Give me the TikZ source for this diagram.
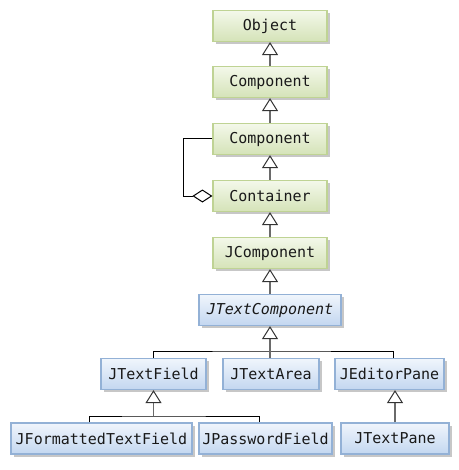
\documentclass[tikz,border=0pt]{standalone}
\usepackage{fontspec}
\setmonofont{DejaVu Sans Mono}
\usetikzlibrary{arrows.meta,shadows,positioning}
\definecolor{gtop}{HTML}{F4F8EA}
\definecolor{gbot}{HTML}{D5E3B8}
\definecolor{gbrd}{HTML}{BFD394}
\definecolor{btop}{HTML}{F0F5FC}
\definecolor{bbot}{HTML}{C3D7F0}
\definecolor{bbrd}{HTML}{93B1D6}
\definecolor{lgray}{HTML}{6A6A6A}
\tikzset{
  cls/.style={rectangle, inner sep=0pt, minimum height=31pt, line width=1.2pt,
    font=\ttfamily\fontsize{15}{15}\selectfont, text=black!90,
    drop shadow={shadow xshift=2.5pt, shadow yshift=-2.5pt, fill=black!22, opacity=1}},
  gcls/.style={cls, draw=gbrd, top color=gtop, bottom color=gbot},
  bcls/.style={cls, draw=bbrd, top color=btop, bottom color=bbot},
  inh/.style={draw=lgray, line width=1.8pt, -{Triangle[open, width=16pt, length=13pt, line width=1pt, black!80]}},
  inhline/.style={draw=lgray, line width=1.8pt},
  bus/.style={draw=black, line width=1pt},
  agg/.style={draw=black, line width=1pt, -{Diamond[open, length=20pt, width=13pt, line width=1pt]}}
}
\begin{document}
\begin{tikzpicture}[x=1pt,y=-1pt]
\useasboundingbox (0,0) rectangle (458,470);
% green classes
\node[gcls, minimum width=114pt] (obj)  at (270,26)  {Object};
\node[gcls, minimum width=114pt] (comp1) at (270,82) {Component};
\node[gcls, minimum width=114pt] (comp2) at (270,139) {Component};
\node[gcls, minimum width=114pt] (cont) at (270,196) {Container};
\node[gcls, minimum width=114pt] (jcomp) at (270,253) {JComponent};
% blue classes
\node[bcls, minimum width=142pt] (jtc) at (270,310) {\itshape JTextComponent};
\node[bcls, minimum width=105pt] (jtf) at (153.5,374) {JTextField};
\node[bcls, minimum width=96pt]  (jta) at (271,374) {JTextArea};
\node[bcls, minimum width=109pt] (jep) at (389.5,374) {JEditorPane};
\node[bcls, minimum width=181pt] (jftf) at (101.5,438.5) {JFormattedTextField};
\node[bcls, minimum width=133pt] (jpf) at (265.5,438.5) {JPasswordField};
\node[bcls, minimum width=108pt] (jtp) at (395,438.5) {JTextPane};
% inheritance
\draw[inh] (comp1.north) -- (obj.south);
\draw[inh] (comp2.north) -- (comp1.south);
\draw[inh] (cont.north) -- (comp2.south);
\draw[inh] (jcomp.north) -- (cont.south);
\draw[inh] (jtc.north) -- (jcomp.south);
% JTextComponent subclasses
\coordinate (b1) at (270,351);
\draw[bus] (jtf.north) |- (b1) -| ([xshift=3.5pt]jep.north);
\draw[inh] (jta.north -| b1) -- (jtc.south);
% JTextField subclasses
\coordinate (b2) at (153.5,416);
\draw[bus] ([xshift=-12.5pt]jftf.north) |- (b2) -| ([xshift=-6.5pt]jpf.north);
\draw[inh] (b2) -- (jtf.south);
% JEditorPane subclass
\draw[inh] (jtp.north) -- (jtp.north |- jep.south);
% aggregation
\draw[agg] (comp2.west) -- ++(-29,0) |- (cont.west);
\end{tikzpicture}
\end{document}
